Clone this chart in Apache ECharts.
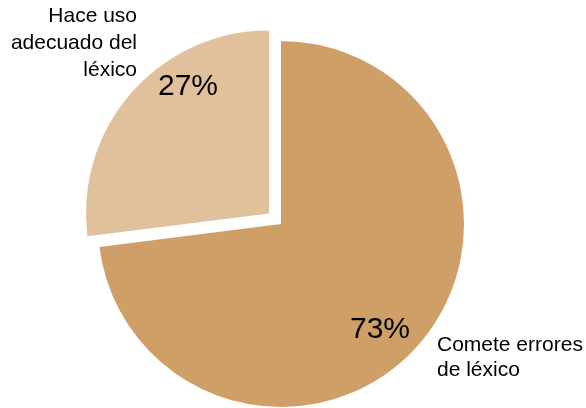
<!DOCTYPE html>
<html>
<head>
<meta charset="utf-8">
<script src="https://cdn.jsdelivr.net/npm/echarts@6/dist/echarts.min.js"></script>
<style>
html,body{margin:0;padding:0;background:#fff;}
#chart{width:586px;height:408px;}
</style>
</head>
<body>
<div id="chart"></div>
<script>
const categories = ["Comete errores\nde léxico", "Hace uso\nadecuado del\nléxico"];
const values = [73, 27];
const colors = ["#CF9F68", "#E1C19B"];

const FONT = "'Liberation Sans', Arial, Helvetica, sans-serif";
const chart = echarts.init(document.getElementById('chart'), null, {renderer: 'canvas'});

const total = values.reduce((a, b) => a + b, 0);
const pctText = values.map(v => Math.round(v / total * 100) + '%');
const pctPos = [[380, 330], [188, 87]];

chart.setOption({
  animation: false,
  backgroundColor: '#ffffff',
  series: [{
    type: 'pie',
    center: [281, 224],
    radius: 183,
    startAngle: 90,
    clockwise: true,
    selectedMode: 'single',
    selectedOffset: 16,
    emphasis: {disabled: true},
    itemStyle: {borderWidth: 0},
    label: {show: false},
    labelLine: {show: false},
    data: values.map((v, i) => ({
      value: v,
      name: categories[i],
      selected: i === 1,
      itemStyle: {color: colors[i]},
      select: {itemStyle: {color: colors[i]}}
    }))
  }],
  graphic: [
    {
      type: 'text',
      x: 137, y: 3,
      silent: true,
      style: {
        text: categories[1],
        align: 'right',
        verticalAlign: 'top',
        fontSize: 21,
        lineHeight: 27,
        fontFamily: FONT,
        fill: '#000'
      }
    },
    {
      type: 'text',
      x: 437, y: 333,
      silent: true,
      style: {
        text: categories[0],
        align: 'left',
        verticalAlign: 'top',
        fontSize: 21,
        lineHeight: 25,
        fontFamily: FONT,
        fill: '#000'
      }
    }
  ].concat(pctText.map((t, i) => ({
    type: 'text',
    x: pctPos[i][0], y: pctPos[i][1],
    silent: true,
    z: 10,
    style: {
      text: t,
      align: 'center',
      verticalAlign: 'middle',
      fontSize: 30,
      fontFamily: FONT,
      fill: '#000'
    }
  })))
});
</script>
</body>
</html>
